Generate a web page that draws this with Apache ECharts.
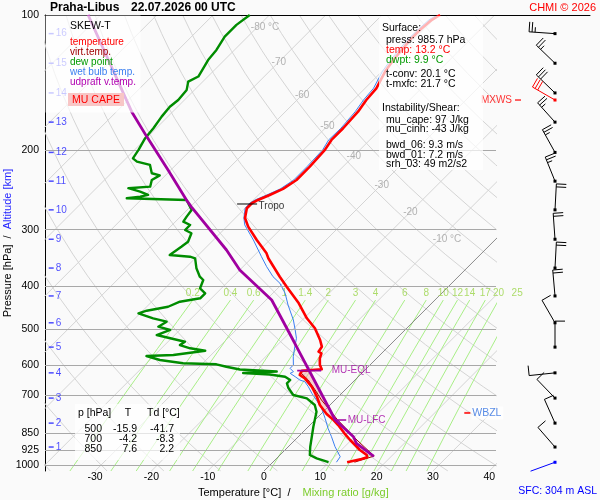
<!DOCTYPE html>
<html>
<head>
<meta charset="utf-8">
<title>Skew-T Praha-Libus</title>
<script src="https://cdn.jsdelivr.net/npm/echarts@6/dist/echarts.min.js"></script>
<style>
html,body{margin:0;padding:0;background:#fafafa;}
#chart{width:600px;height:500px;}
</style>
</head>
<body>
<div id="chart"></div>
<script>
// ================= DATA =================
// Temperature profile [hPa] / [°C]
const tempP = [985.7, 969.8, 961.4, 950.1, 926.1, 879.9, 849.0, 814.9, 794.3, 770.3, 735.6, 705.0, 681.2, 669.8, 641.7, 630.9, 625.5, 617.2, 612.8, 599.4, 579.2, 564.6, 560.0, 545.8, 527.4, 496.7, 472.0, 437.1, 401.5, 381.5, 347.2, 338.5, 316.2, 295.3, 282.5, 268.8, 262.0, 257.6, 251.1, 243.5, 232.6, 217.3, 199.4, 189.5, 178.5, 164.0, 154.5, 145.5, 133.6, 125.9, 113.6, 108.0, 102.5, 100];
const tempT = [13.2, 15.2, 15.9, 15.4, 13.3, 9.8, 7.5, 5.0, 3.3, 1.0, -1.8, -3.8, -5.6, -6.5, -9.2, -10.7, -11.3, -11.1, -7.8, -8.9, -10.1, -10.7, -11.5, -11.8, -13.3, -16.3, -19.5, -23.6, -28.7, -31.7, -37.0, -38.2, -42.3, -46.2, -48.3, -49.7, -49.7, -49.2, -48.0, -46.7, -45.9, -45.9, -46.2, -46.8, -46.8, -47.1, -47.7, -48.0, -49.4, -50.0, -50.6, -50.6, -50.3, -49.7];
// Virtual temperature (lower part, the rest lies under the temperature line)
const vtP = [985.7, 955.0, 879.9, 824.5, 791.4, 748.1, 717.0, 681.2, 647.2, 630.9, 621.2, 612.8, 599.4];
const vtT = [14.5, 16.9, 11.0, 6.6, 3.8, 0.3, -2.4, -5.3, -8.3, -10.1, -11.2, -7.9, -8.8];
// Dew point
const dewP = [985.7, 966.3, 950.1, 910.6, 865.2, 822.0, 761.3, 735.6, 710.8, 698.9, 674.3, 658.3, 647.2, 636.4, 629.3, 624.5, 619.8, 613.4, 604.7, 597.3, 594.2, 584.3, 572.4, 569.5, 557.1, 550.3, 541.3, 532.1, 514.2, 501.1, 492.7, 480.3, 472.0, 460.1, 454.0, 444.9, 433.6, 426.1, 415.3, 404.8, 388.0, 381.5, 365.4, 347.2, 344.4, 341.4, 327.3, 319.0, 305.5, 300.4, 292.8, 287.9, 280.6, 271.2, 262.0, 257.6, 255.4, 253.3, 251.1, 246.9, 242.6, 240.7, 232.6, 227.2, 224.7, 215.3, 211.7, 208.2, 199.4, 187.8, 178.5, 168.2, 159.9, 154.5, 146.7, 140.6, 137.0, 125.9, 119.6, 111.7, 105.2, 100];
const dewT = [9.9, 7.1, 5.3, 3.9, 2.4, 0.9, -1.2, -2.7, -5.3, -8.3, -10.4, -11.5, -11.5, -13.0, -16.1, -21.1, -15.4, -22.3, -25.2, -27.4, -33.5, -38.2, -41.3, -36.7, -31.8, -34.9, -37.3, -37.0, -43.2, -41.7, -44.4, -43.8, -46.8, -50.3, -49.3, -46.2, -45.0, -42.0, -42.0, -43.8, -44.7, -45.9, -48.0, -50.0, -51.2, -55.1, -54.5, -54.2, -55.1, -56.8, -56.8, -58.6, -58.9, -59.2, -61.0, -61.9, -72.8, -70.7, -69.6, -71.6, -74.3, -70.7, -71.6, -71.0, -72.8, -74.6, -77.5, -78.8, -79.3, -80.2, -80.5, -81.1, -81.4, -81.1, -81.4, -82.6, -81.7, -82.9, -83.2, -84.1, -84.1, -83.5];
// Wet bulb temperature
const wbP = [985.7, 958.4, 910.6, 865.2, 828.8, 787.5, 748.1, 717.0, 692.8, 669.8, 652.9, 647.2, 636.4, 625.5, 620.4, 609.7, 599.4, 574.5, 545.8, 522.9, 501.1, 476.1, 441.0, 415.3, 394.6, 381.5, 362.5, 344.4, 316.2, 292.8, 282.5, 268.8, 262.0, 257.6, 251.1, 243.5, 232.6, 217.3, 199.4, 189.5, 178.5, 164.0, 154.5, 145.5, 133.6, 125.9, 113.6, 108.0, 102.5, 100];
const wbT = [11.3, 11.0, 8.3, 5.9, 3.8, 1.5, -0.9, -3.3, -5.3, -7.1, -8.6, -9.8, -11.2, -12.7, -12.4, -13.6, -13.6, -15.1, -16.6, -17.8, -19.5, -21.6, -25.2, -27.8, -30.5, -32.9, -35.8, -38.5, -42.9, -47.1, -48.5, -50.0, -50.1, -49.7, -48.5, -47.2, -46.4, -46.4, -46.6, -47.3, -47.2, -47.6, -48.2, -48.5, -49.9, -50.5, -51.1, -51.0, -50.8, -50.2];
// Updraft (MU parcel) virtual temperature
const parP = [956.4, 894.9, 865.2, 794.3, 620.4, 545.8, 527.4, 429.8, 368.6, 332.8, 266.9, 257.6, 220.9, 186.3, 164.0, 100];
const parT = [16.9, 11.5, 9.8, 3.6, -9.5, -16.3, -18.1, -29.0, -40.0, -45.9, -59.8, -61.9, -70.5, -80.2, -87.3, -112.2];
// Special levels [hPa]
const lfcP = 794, eqlP = 617, tropoP = 263, wbzlP = 766;
// Pressure axis labels / grid levels
const pressLevels = [100, 200, 300, 400, 500, 600, 700, 850, 925, 1000];
// Altitude axis (km) and matching pressure
const altKm = [1, 2, 3, 4, 5, 6, 7, 8, 9, 10, 11, 12, 13, 14, 15, 16];
const altP = [912, 807, 710, 624, 547, 483, 421, 365, 315, 271, 234, 202, 173, 149, 128, 110];
// Wind barbs: surface + every km
const barbP = [986, 912, 807, 710, 624, 547, 483, 421, 365, 315, 271, 234, 202, 173, 149, 128, 110];
const barbDir = [250, 319, 336, 316, 264, 0, 330, 355, 3, 356, 3, 338, 331, 318, 314, 314, 274];
const barbSpd = [2, 10, 10, 10, 10, 10, 10, 20, 20, 20, 20, 25, 25, 25, 30, 25, 25];
// Max wind
const mxwsP = 154.5, mxwsDir = 300, mxwsSpd = 30;
// Mixing-ratio line labels [g/kg]
const mixRatios = [0.2, 0.4, 0.6, 1, 1.4, 2, 3, 4, 6, 8, 10, 12, 14, 17, 20, 25];
// Isotherm labels
const isoLabelT = [-80, -70, -60, -50, -40, -30, -20, -10];
const isoLabelP = [106.4, 127.6, 151.1, 177.1, 206.4, 238.6, 274.9, 315.1];
const isoLabelTxt = ['-80 °C', '-70', '-60', '-50', '-40', '-30', '-20', '-10 °C'];
// Tables / boxes
const tableHead = ['p [hPa]', 'T', 'Td [°C]'];
const tableRows = [['500', '-15.9', '-41.7'], ['700', '-4.2', '-8.3'], ['850', '7.6', '2.2']];
const legendItems = [['temperature', '#ff0000'], ['virt.temp.', '#a00000'], ['dew point', '#009a00'], ['wet bulb temp.', '#3a7ff0'], ['udpraft v.temp.', '#b000b0']];
const surfaceItems = [['press: 985.7 hPa', '#000'], ['temp: 13.2 °C', '#ff0000'], ['dwpt: 9.9 °C', '#009a00'], ['t-conv: 20.1 °C', '#000'], ['t-mxfc: 21.7 °C', '#000']];
const shearItems = [['mu_cape: 97 J/kg'], ['mu_cinh: -43 J/kg'], ['bwd_06: 9.3 m/s'], ['bwd_01: 7.2 m/s'], ['srh_03: 49 m2/s2']];

// ================= GEOMETRY =================
const FF = '"Liberation Sans", Arial, Helvetica, sans-serif';
const X_MIN = -38.9, X_MAX = 41.2, P_TOP = 100, P_BOT = 1031;
const SKEW = 34.7;                       // skew factor (°C per ln p)
const PXU = 451 / (X_MAX - X_MIN);       // pixels per x unit
const sk = (t, p) => t + SKEW * Math.log(P_BOT / p);
const prof = (P, T) => P.map((p, i) => [sk(T[i], p), p]);
function interpT(P, T, p) {
  for (let i = 0; i < P.length - 1; i++) {
    if ((P[i] - p) * (P[i + 1] - p) <= 0) {
      const f = Math.log(P[i] / p) / Math.log(P[i] / P[i + 1]);
      return T[i] + f * (T[i + 1] - T[i]);
    }
  }
  return T[T.length - 1];
}
function tdOfW(w, p) { const e = w * p / (622 + w); const l = Math.log(e / 6.112); return 243.5 * l / (17.67 - l); }

const series = [];
const bg = (data, color, width, z) => ({ type: 'line', data, symbol: 'none', silent: true, lineStyle: { color, width }, z: z || 1, xAxisIndex: 0, yAxisIndex: 0 });
// isotherms
for (let t = -120; t <= 40; t += 10) if (t !== 0) series.push(bg([[sk(t, P_BOT), P_BOT], [sk(t, P_TOP), P_TOP]], '#d4d4d4', 1));
// dry adiabats
const adiP = [100, 110, 120, 135, 150, 170, 190, 215, 240, 270, 300, 340, 380, 430, 480, 540, 600, 670, 750, 840, 930, 1031];
for (let th = -40; th <= 180; th += 10) series.push(bg(adiP.map(p => [sk((th + 273.15) * Math.pow(p / 1000, 0.2857) - 273.15, p), p]), '#d4d4d4', 1));
// mixing ratio lines
const mixP = [1031, 950, 850, 750, 650, 550, 480, 430];
mixRatios.forEach(w => series.push(bg(mixP.map(p => [sk(tdOfW(w, p), p), p]), '#a8ee86', 1)));
// 0 °C isotherm
series.push(bg([[sk(0, P_BOT), P_BOT], [sk(0, P_TOP), P_TOP]], '#707070', 0.8, 1.2));
// pressure grid lines + labels
series.push({
  type: 'line', data: [[0, 500]], symbol: 'none', lineStyle: { opacity: 0 }, silent: true, z: 1.5,
  markLine: {
    symbol: ['none', 'none'], silent: true, animation: false,
    label: { show: true, position: 'start', distance: 6, color: '#000', fontSize: 10.5, fontFamily: FF, formatter: prm => String(prm.value) },
    lineStyle: { color: '#a8a8a8', width: 1, type: 'solid' },
    data: pressLevels.map(p => p === 100 ? { yAxis: p, lineStyle: { color: '#000', width: 1, type: 'solid' } } : { yAxis: p })
  }
});
// CAPE area
const capePoly = [];
capePoly.push([sk(interpT(parP, parT, lfcP), lfcP), lfcP]);
parP.forEach((p, i) => { if (p < lfcP && p > eqlP) capePoly.push([sk(parT[i], p), p]); });
capePoly.push([sk(interpT(parP, parT, eqlP), eqlP), eqlP]);
capePoly.push([sk(interpT(tempP, tempT, eqlP), eqlP), eqlP]);
for (let i = tempP.length - 1; i >= 0; i--) if (tempP[i] > eqlP && tempP[i] < lfcP) capePoly.push([sk(tempT[i], tempP[i]), tempP[i]]);
capePoly.push([sk(interpT(tempP, tempT, lfcP), lfcP), lfcP]);
series.push({
  type: 'custom', xAxisIndex: 0, yAxisIndex: 0, silent: true, z: 3, data: [[0, 500]],
  renderItem: (params, api) => ({ type: 'polygon', shape: { points: capePoly.map(d => api.coord(d)) }, style: { fill: 'rgba(242,150,150,0.42)' } })
});
// profiles
const prl = (data, color, width, z) => ({ type: 'line', data, symbol: 'none', silent: true, z, lineStyle: { color, width, join: 'round' } });
series.push(prl(prof(wbP, wbT), '#3a7ff0', 1, 4));
series.push(prl(prof(vtP, vtT), '#a00000', 1, 5));
series.push(prl(prof(tempP, tempT), '#ff0000', 2.6, 6));
series.push(prl(prof(dewP, dewT), '#008c00', 2.4, 6));
series.push(prl(prof(parP, parT), '#a000a0', 2.8, 7));
// markers
const xEql = sk(interpT(parP, parT, eqlP), eqlP);
const xLfc = sk(interpT(parP, parT, lfcP), lfcP);
const xTrp = sk(interpT(tempP, tempT, tropoP), tropoP);
series.push(prl([[xEql - 12 / PXU, eqlP], [xEql + 12 / PXU, eqlP]], '#a000a0', 1.6, 8));
series.push(prl([[xLfc, lfcP], [xLfc + 11 / PXU, lfcP]], '#a000a0', 1.6, 8));
series.push(prl([[xTrp - 14 / PXU, tropoP], [xTrp + 6 / PXU, tropoP]], '#000000', 1, 8));
// annotation labels
const lab = (text, color, pos, dist, extra) => Object.assign({ show: true, position: pos, distance: dist, formatter: text, color, fontSize: 10, fontFamily: FF }, extra || {});
series.push({
  type: 'scatter', symbolSize: 1, itemStyle: { color: 'rgba(0,0,0,0)' }, silent: true, z: 9, clip: false,
  data: [
    { value: [xEql + 12 / PXU, eqlP], label: lab('MU-EQL', '#a000a0', 'right', 10) },
    { value: [xLfc + 11 / PXU, lfcP], label: lab('MU-LFC', '#a000a0', 'right', 1) },
    { value: [xTrp + 6 / PXU, tropoP], label: lab('Tropo', '#000', 'right', 1, { offset: [0, 2] }) },
    { value: [36.1, wbzlP], symbol: 'rect', symbolSize: [6, 2], itemStyle: { color: '#ff0000' },
      label: lab('WBZL', '#2f6fe0', 'right', 1, { fontSize: 10.5, backgroundColor: 'rgba(255,255,255,0.85)', padding: [1, 2, 1, 1] }) }
  ]
});
// isotherm labels
series.push({
  type: 'scatter', symbolSize: 1, itemStyle: { color: 'rgba(0,0,0,0)' }, silent: true, z: 2, clip: false,
  data: isoLabelT.map((t, i) => [sk(t, isoLabelP[i]), isoLabelP[i], isoLabelTxt[i]]),
  label: { show: true, position: 'right', distance: 0, offset: [-7, 0], formatter: prm => prm.value[2], color: '#a0a0a0', fontSize: 10, fontFamily: FF }
});
// mixing ratio labels
series.push({
  type: 'scatter', symbolSize: 1, itemStyle: { color: 'rgba(0,0,0,0)' }, silent: true, z: 2, clip: false,
  data: mixRatios.map(w => [sk(tdOfW(w, 430), 430), 430, String(w)]),
  label: { show: true, position: 'top', distance: 1, formatter: prm => prm.value[2], color: '#9ad447', fontSize: 10, fontFamily: FF }
});
// altitude axis
series.push({
  type: 'scatter', symbol: 'rect', symbolSize: [5, 1.5], itemStyle: { color: '#1f1fff' }, silent: true, z: 9,
  data: altP.map((p, i) => [-37.8, p, altKm[i]]),
  label: { show: true, position: 'right', distance: 2, formatter: prm => String(prm.value[2]), color: '#1f1fff', fontSize: 10, fontFamily: FF }
});
// wind barbs
const BARB_COLORS = ['#000000', '#ff0000', '#0000ff'];
function renderBarb(params, api) {
  const c = api.coord([api.value(0), api.value(1)]);
  const d = api.value(2) * Math.PI / 180, spd = api.value(3);
  const col = BARB_COLORS[api.value(4)];
  const ux = Math.sin(d), uy = -Math.cos(d);
  const L = 26, FL = 10, GAP = 3;
  const tx = c[0] + ux * L, ty = c[1] + uy * L;
  const fx = -uy, fy = ux;
  const st = { stroke: col, lineWidth: 1 };
  const ch = [{ type: 'line', shape: { x1: c[0], y1: c[1], x2: tx, y2: ty }, style: st }];
  let s = Math.round(spd / 5) * 5, pos = 0;
  while (s >= 10) {
    const px = tx - ux * pos, py = ty - uy * pos;
    ch.push({ type: 'line', shape: { x1: px, y1: py, x2: px + fx * FL, y2: py + fy * FL }, style: st });
    pos += GAP; s -= 10;
  }
  if (s >= 5) {
    const px = tx - ux * pos, py = ty - uy * pos;
    ch.push({ type: 'line', shape: { x1: px, y1: py, x2: px + fx * FL / 2, y2: py + fy * FL / 2 }, style: st });
  }
  ch.push({ type: 'rect', shape: { x: c[0] - 1.5, y: c[1] - 1.5, width: 3, height: 3 }, style: { fill: col } });
  return { type: 'group', children: ch };
}
const barbData = barbP.map((p, i) => [59, p, barbDir[i], barbSpd[i], i === 0 ? 2 : 0]);
barbData.push([59, mxwsP, mxwsDir, mxwsSpd, 1]);
series.push({ type: 'custom', xAxisIndex: 2, yAxisIndex: 1, silent: true, clip: false, z: 5, data: barbData, renderItem: renderBarb });
series.push({
  type: 'scatter', xAxisIndex: 2, yAxisIndex: 1, symbol: 'rect', symbolSize: [6, 1.5], itemStyle: { color: '#ff0000' }, silent: true, clip: false, z: 5,
  data: [[22, mxwsP]],
  label: { show: true, position: 'left', distance: 3, formatter: 'MXWS', color: '#ff0000', fontSize: 10, fontFamily: FF }
});

// ================= GRAPHIC (titles, boxes) =================
const G = [];
const txt = (x, y, text, fill, font, align) => ({ type: 'text', x, y, z: 102, silent: true, style: { text, fill, font, align: align || 'left', verticalAlign: 'middle' } });
const F10 = '10px ' + FF, F105 = '10.5px ' + FF, F11 = '11px ' + FF;
G.push({ type: 'rect', z: 100, silent: true, shape: { x: 45.5, y: 15.5, width: 95, height: 97 }, style: { fill: 'rgba(255,255,255,0.7)' } });
G.push({ type: 'rect', z: 100, silent: true, shape: { x: 379, y: 16, width: 104, height: 154 }, style: { fill: 'rgba(255,255,255,0.7)' } });
G.push({ type: 'rect', z: 100, silent: true, shape: { x: 75, y: 404, width: 105, height: 56 }, style: { fill: 'rgba(255,255,255,0.7)' } });
G.push({ type: 'rect', z: 101, silent: true, shape: { x: 68, y: 93, width: 56, height: 13 }, style: { fill: '#f8c6c6' } });
G.push(txt(50, 7.5, 'Praha-Libus', '#000', 'bold 12px ' + FF));
G.push(txt(131, 7.5, '22.07.2026 00 UTC', '#000', 'bold 12px ' + FF));
G.push(txt(596, 7.5, 'CHMI © 2026', '#ff0000', F11, 'right'));
G.push(txt(70, 26, 'SKEW-T', '#000', F105));
legendItems.forEach((it, i) => G.push(txt(70, 42.3 + 10 * i, it[0], it[1], F10)));
G.push(txt(96, 100.5, 'MU CAPE', '#ff0000', F105, 'center'));
G.push(txt(382, 28, 'Surface:', '#000', F105));
const surfY = [40, 50, 60, 74, 84];
surfaceItems.forEach((it, i) => G.push(txt(386, surfY[i], it[0], it[1], F105)));
G.push(txt(382, 108, 'Instability/Shear:', '#000', F105));
const shearY = [120, 129.5, 145, 155, 164.5];
shearItems.forEach((it, i) => G.push(txt(386, shearY[i], it[0], '#000', F105)));
G.push(txt(78, 413.5, tableHead[0], '#000', F105));
G.push(txt(128, 413.5, tableHead[1], '#000', F105, 'center'));
G.push(txt(147, 413.5, tableHead[2], '#000', F105));
const colRight = [102, 137, 174];
tableRows.forEach((r, i) => r.forEach((v, j) => G.push(txt(colRight[j], 429 + 10 * i, v, '#000', F105, 'right'))));
G.push(txt(198, 493, 'Temperature [°C]  /', '#000', F11));
G.push(txt(302.5, 493, 'Mixing ratio [g/kg]', '#7ccc2c', F11));
G.push(txt(597, 491.5, 'SFC: 304 m ASL', '#0000ff', F105, 'right'));
G.push({ type: 'text', x: 8, y: 243, rotation: Math.PI / 2, z: 102, silent: true,
  style: { text: '{a|Pressure [hPa]}  /  {b|Altitude [km]}', font: F11, fill: '#000', align: 'center', verticalAlign: 'middle',
    rich: { a: { fill: '#000', font: F11 }, b: { fill: '#1f1fff', font: F11 } } } });

// ================= CHART =================
const chart = echarts.init(document.getElementById('chart'), null, { renderer: 'canvas' });
chart.setOption({
  animation: false,
  backgroundColor: '#fafafa',
  textStyle: { fontFamily: FF },
  grid: [
    { left: 45, right: 104, top: 15, bottom: 29, outerBoundsMode: 'none' },
    { left: 496, right: 10, top: 15, bottom: 29, outerBoundsMode: 'none' }
  ],
  xAxis: [
    { gridIndex: 0, type: 'value', min: X_MIN, max: X_MAX, splitNumber: 8, position: 'bottom',
      axisLine: { show: false, onZero: false }, axisTick: { show: false }, splitLine: { show: false },
      axisLabel: { show: true, margin: 1, color: '#000', fontSize: 10.5, fontFamily: FF,
        formatter: v => { const r = Math.round(v); return (Math.abs(v - r) < 1e-6 && r % 10 === 0) ? String(r) : ''; } } },
    { gridIndex: 0, type: 'value', min: X_MIN, max: X_MAX, position: 'top',
      axisLine: { show: true, onZero: false, lineStyle: { color: '#000', width: 1 } }, axisTick: { show: false }, axisLabel: { show: false }, splitLine: { show: false } },
    { gridIndex: 1, type: 'value', min: 0, max: 94, position: 'top',
      axisLine: { show: true, onZero: false, lineStyle: { color: '#000', width: 1 } }, axisTick: { show: false }, axisLabel: { show: false }, splitLine: { show: false } }
  ],
  yAxis: [
    { gridIndex: 0, type: 'log', logBase: 10, min: P_TOP, max: P_BOT, inverse: true,
      axisLine: { show: true, onZero: false, lineStyle: { color: '#000', width: 1 } }, axisTick: { show: false }, axisLabel: { show: false },
      splitLine: { show: false }, minorTick: { show: false }, minorSplitLine: { show: false } },
    { gridIndex: 1, type: 'log', logBase: 10, min: P_TOP, max: P_BOT, inverse: true, show: false,
      axisLine: { onZero: false }, splitLine: { show: false } }
  ],
  series,
  graphic: G
});
</script>
</body>
</html>
